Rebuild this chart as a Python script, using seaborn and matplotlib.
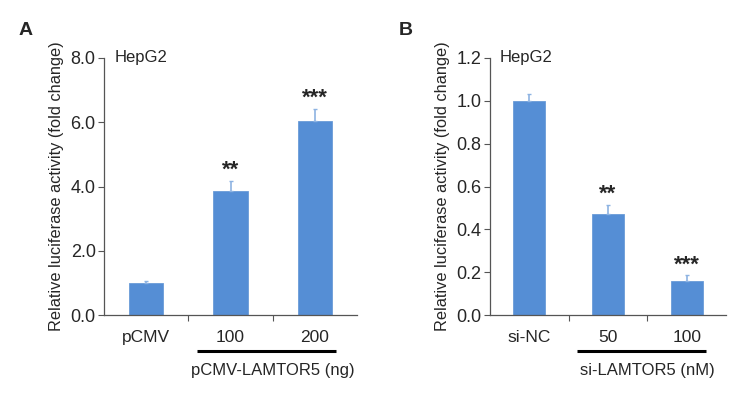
import matplotlib
matplotlib.use("Agg")
import matplotlib.pyplot as plt
import seaborn as sns
import pandas as pd
import numpy as np

sns.set_style("white")
plt.rcParams['font.family'] = ['Liberation Sans', 'DejaVu Sans']

# Panel A data
cats_a = ["pCMV", "100", "200"]
vals_a = [1.0, 3.87, 6.03]
errs_a = [0.06, 0.30, 0.39]
stars_a = ["", "**", "***"]
yticks_a = [0.0, 2.0, 4.0, 6.0, 8.0]

# Panel B data
cats_b = ["si-NC", "50", "100"]
vals_b = [1.0, 0.47, 0.16]
errs_b = [0.03, 0.045, 0.025]
stars_b = ["", "**", "***"]
yticks_b = [0.0, 0.2, 0.4, 0.6, 0.8, 1.0, 1.2]

bar_color = "#558ED5"
err_color = "#8DB3E2"

fig = plt.figure(figsize=(7.56, 4.05), dpi=100)
axA = fig.add_axes([0.1376, 0.2222, 0.3347, 0.6346])
axB = fig.add_axes([0.6481, 0.2222, 0.3122, 0.6346])

def draw(ax, cats, vals, errs, stars, yticks, ymax, group_label, star_off):
    df = pd.DataFrame({"cat": cats, "val": vals})
    sns.barplot(data=df, x="cat", y="val", ax=ax, color=bar_color, saturation=1,
                width=0.41, errorbar=None, edgecolor="#6A9BD8", linewidth=0.6)
    x = np.arange(len(cats))
    ax.errorbar(x, vals, yerr=[np.zeros(len(errs)), errs], fmt="none",
                ecolor=err_color, elinewidth=1.2, capsize=1.5, capthick=1)
    for xi, v, e, s in zip(x, vals, errs, stars):
        if s:
            ax.text(xi, v + e + star_off, s, ha="center", va="bottom",
                    fontsize=16, fontweight="bold")
    ax.set_xlim(-0.5, len(cats) - 0.5)
    ax.set_ylim(0, ymax)
    ax.set_yticks(yticks)
    ax.set_yticklabels([f"{t:.1f}" for t in yticks], fontsize=13)
    ax.set_xticks(x)
    ax.set_xticklabels(cats, fontsize=12.5)
    ax.tick_params(axis="x", length=0, pad=11)
    ax.set_xticks(x[:-1] + 0.5, minor=True)
    ax.tick_params(axis="x", which="minor", length=4, direction="out", color="#555555", width=0.8, bottom=True)
    ax.tick_params(axis="y", length=4, direction="out", color="#555555", width=0.8, left=True, pad=2)
    for sp in ["top", "right"]:
        ax.spines[sp].set_visible(False)
    for sp in ["left", "bottom"]:
        ax.spines[sp].set_color("#555555")
        ax.spines[sp].set_linewidth(0.9)
    ax.set_xlabel("")
    ax.set_ylabel("Relative luciferase activity (fold change)", fontsize=11.8, labelpad=5)
    ax.text(0.04, 1.0, "HepG2", transform=ax.transAxes, fontsize=12, va="center", ha="left")
    # bracket under treatment groups
    trans = ax.get_xaxis_transform()
    ax.plot([0.6, 2.25], [-0.14, -0.14], transform=trans, color="black", lw=2.2, clip_on=False, solid_capstyle="butt")
    ax.text(1.5, -0.215, group_label, transform=trans, ha="center", va="center", fontsize=12)

draw(axA, cats_a, vals_a, errs_a, stars_a, yticks_a, 8.0, "pCMV-LAMTOR5 (ng)", 0.0)
draw(axB, cats_b, vals_b, errs_b, stars_b, yticks_b, 1.2, "si-LAMTOR5 (nM)", 0.0)

fig.text(0.024, 0.925, "A", fontsize=14, fontweight="bold", va="center")
fig.text(0.527, 0.925, "B", fontsize=14, fontweight="bold", va="center")

fig.savefig("out.png", dpi=100)
